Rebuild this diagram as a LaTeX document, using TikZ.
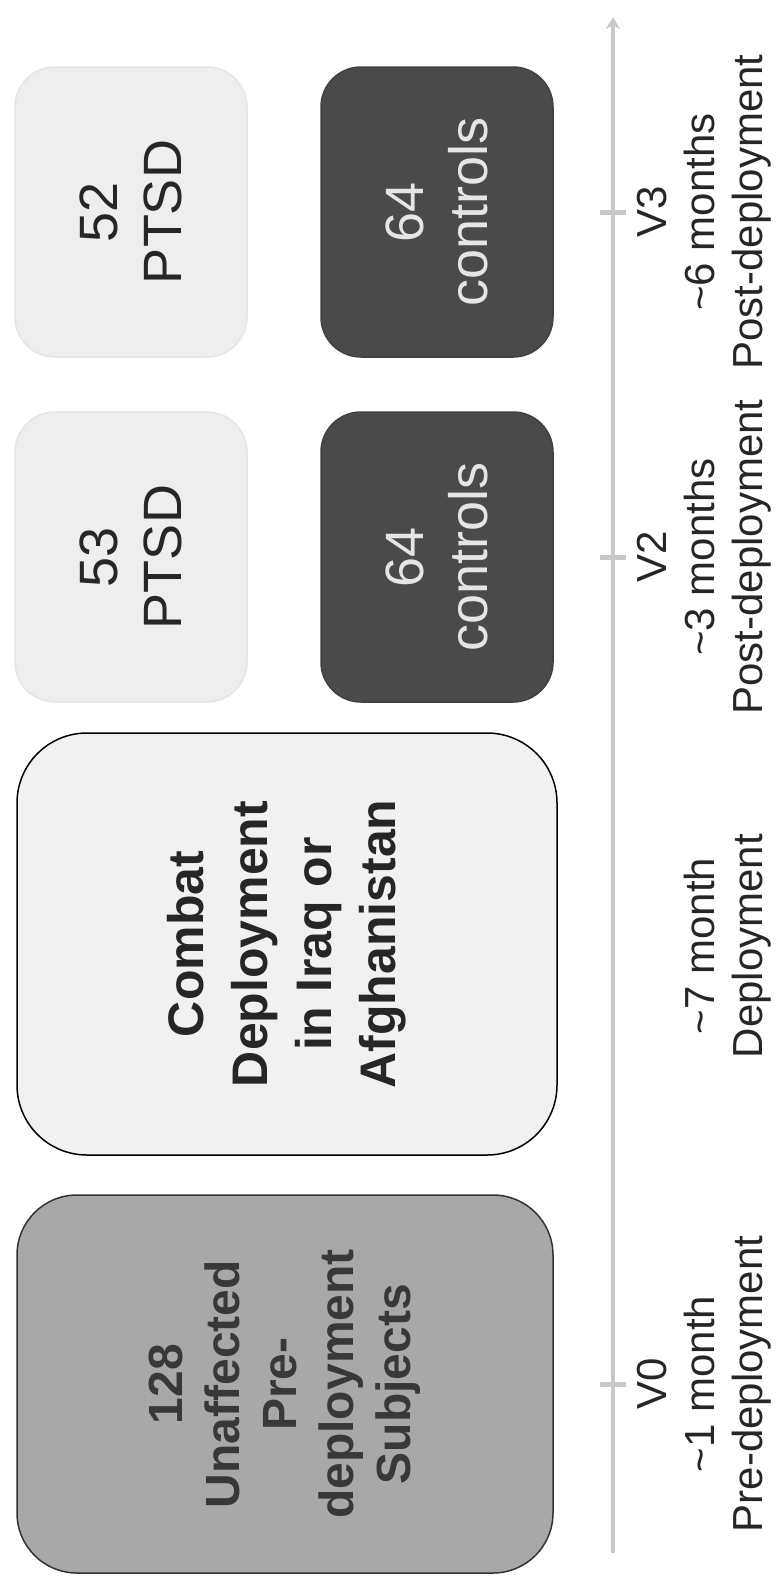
\documentclass[tikz,border=0pt]{standalone}
\usepackage{fontspec}
\setmainfont{Liberation Sans}
\usepackage{xcolor}
\usetikzlibrary{arrows.meta, positioning}
\definecolor{paleg}{HTML}{EEEEEE}
\definecolor{darkg}{HTML}{4A4A4A}
\definecolor{midg}{HTML}{A8A8A8}
\definecolor{axisg}{HTML}{C8C8C8}
\definecolor{inkg}{HTML}{383838}
\tikzset{
  ptsd/.style={rectangle, rounded corners=40pt, rotate=90, fill=paleg,
               draw=black!10, line width=1.5pt, minimum width=290pt,
               minimum height=232pt, align=center, text=black!85,
               font=\fontsize{54}{64}\selectfont},
  ctrl/.style={rectangle, rounded corners=40pt, rotate=90, fill=darkg,
               draw=black!75, line width=1.5pt, minimum width=290pt,
               minimum height=232pt, align=center, text=white!90!black,
               font=\fontsize{54}{64}\selectfont},
  depl/.style={rectangle, rounded corners=70pt, rotate=90, fill=paleg!80!white,
               draw=black, line width=1.5pt, minimum width=422pt,
               minimum height=540pt, align=center, text=black!85,
               font=\bfseries\fontsize{50}{64}\selectfont},
  base/.style={rectangle, rounded corners=60pt, rotate=90, fill=midg,
               draw=black!80, line width=1.5pt, minimum width=378pt,
               minimum height=536pt, align=center, text=inkg,
               font=\bfseries\fontsize{48}{57}\selectfont},
  tlbl/.style={rotate=90, align=center, text=black!85,
               font=\fontsize{42}{48}\selectfont},
  axl/.style={draw=axisg, line width=4pt},
  tck/.style={draw=axisg, line width=5pt},
}

\begin{document}
\begin{tikzpicture}[x=1pt, y=-1pt]
  \useasboundingbox (0,0) rectangle (781,1585);

  \node[ptsd] (pt52) at (131,212)  {52\\PTSD};
  \node[ctrl] (ct52) at (437,212)  {64\\controls};
  \node[ptsd] (pt53) at (131,557)  {53\\PTSD};
  \node[ctrl] (ct53) at (437,557)  {64\\controls};
  \node[depl] (dep)  at (287,944)  {Combat\\Deployment\\in Iraq or\\Afghanistan};
  \node[base] (pre)  at (285,1384) {128\\Unaffected\\Pre-\\deployment\\Subjects};

  \coordinate (axbot) at (613,1553);
  \coordinate (axtop) at (613,17);
  \draw[axl, -{Stealth[length=12pt, width=14pt]}] (axbot) -- (axtop);

  \foreach \ty/\nm in {212/v3, 557/v2, 1384/v0}{
    \coordinate (\nm) at (613,\ty);
    \draw[tck] ([xshift=-13pt]\nm) -- ([xshift=13pt]\nm);
  }

  \node[tlbl] (l3) at (704,212)  {V3\\\textasciitilde6 months\\Post-deployment};
  \node[tlbl] (l2) at (704,557)  {V2\\\textasciitilde3 months\\Post-deployment};
  \node[tlbl] (ld) at (728,946)  {\textasciitilde7 month\\Deployment};
  \node[tlbl] (l0) at (704,1384) {V0\\\textasciitilde1 month\\Pre-deployment};
\end{tikzpicture}
\end{document}
